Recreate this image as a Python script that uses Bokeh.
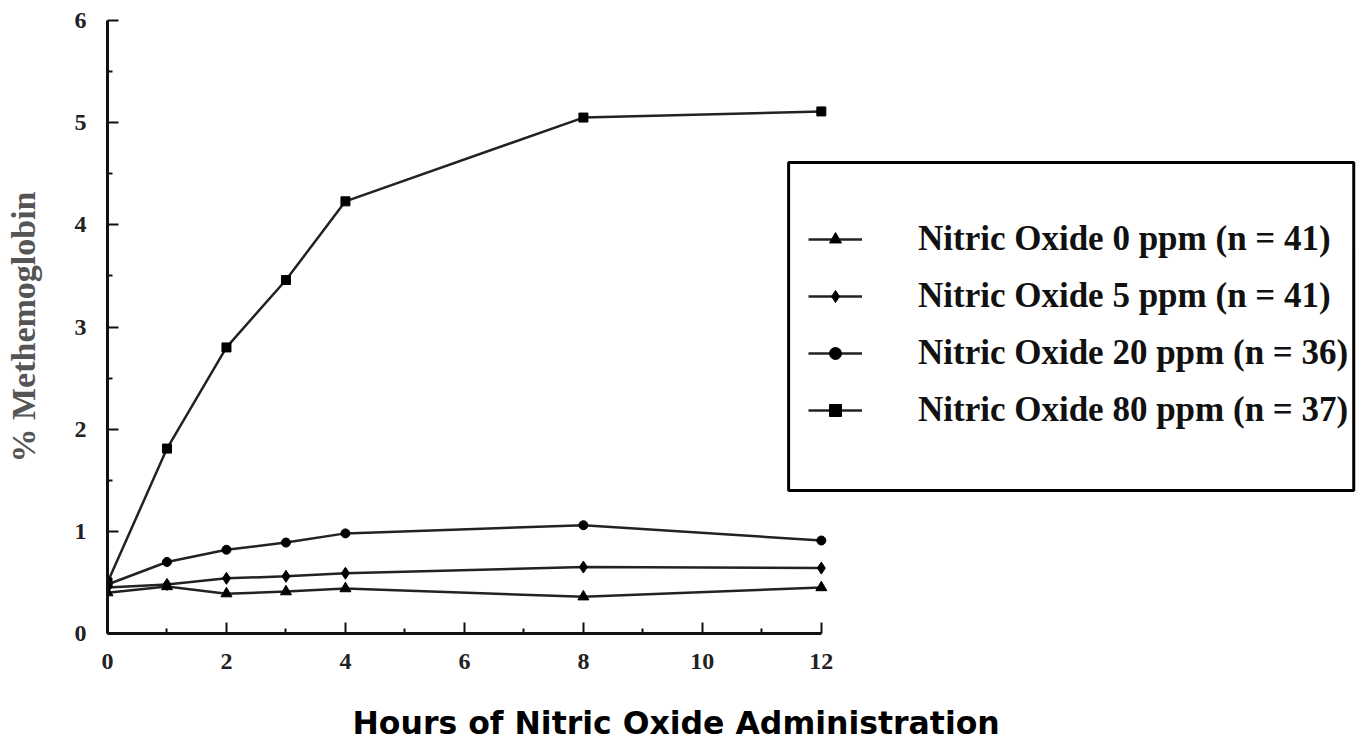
from bokeh.plotting import figure
from bokeh.models import (Range1d, Legend, LegendItem, BoxAnnotation, FixedTicker,
                          LinearAxis, Title)
from bokeh.embed import file_html
from bokeh.resources import INLINE

# ---- data ----
hours = [0, 1, 2, 3, 4, 8, 12]
no_0ppm = [0.40, 0.46, 0.39, 0.41, 0.44, 0.36, 0.45]
no_5ppm = [0.45, 0.48, 0.54, 0.56, 0.59, 0.65, 0.64]
no_20ppm = [0.48, 0.70, 0.82, 0.89, 0.98, 1.06, 0.91]
no_80ppm = [0.50, 1.81, 2.80, 3.46, 4.23, 5.05, 5.11]
series_labels = [
    "Nitric Oxide 0 ppm (n = 41)",
    "Nitric Oxide 5 ppm (n = 41)",
    "Nitric Oxide 20 ppm (n = 36)",
    "Nitric Oxide 80 ppm (n = 37)",
]
x_ticks = [0, 2, 4, 6, 8, 10, 12]
x_minor = [1, 3, 5, 7, 9, 11]
y_ticks = [0, 1, 2, 3, 4, 5, 6]
y_minor = [0.5, 1.5, 2.5, 3.5, 4.5, 5.5]
x_title = "Hours of Nitric Oxide Administration"
y_title = "% Methemoglobin"

# ---- layout constants ----
X_END = 21.03
Y_END = 6.0
SERIF = "Liberation Serif"

p = figure(width=1358, height=745, x_range=Range1d(0, X_END), y_range=Range1d(0, Y_END),
           output_backend="svg", toolbar_location=None,
           min_border_left=107, min_border_right=0, min_border_top=20, min_border_bottom=112)
p.outline_line_color = None
p.xgrid.visible = False
p.ygrid.visible = False

for ax, ticks, mn in ((p.xaxis[0], x_ticks, x_minor), (p.yaxis[0], y_ticks, y_minor)):
    ax.ticker = FixedTicker(ticks=ticks, minor_ticks=mn)
    ax.bounds = (ticks[0], ticks[-1])
    ax.axis_line_color = "#111111"
    ax.axis_line_width = 3
    ax.major_tick_line_color = "#111111"
    ax.major_tick_line_width = 2
    ax.minor_tick_line_color = "#111111"
    ax.minor_tick_line_width = 2
    ax.major_tick_out = 0
    ax.minor_tick_out = 0
    ax.major_tick_in = 11
    ax.minor_tick_in = 5
    ax.major_label_text_font = SERIF
    ax.major_label_text_font_style = "bold"
    ax.major_label_text_font_size = "24px"
    ax.major_label_text_color = "#222222"

p.xaxis.major_label_standoff = 20
p.yaxis.major_label_standoff = 21
p.yaxis.axis_label = y_title
p.yaxis.axis_label_text_font = SERIF
p.yaxis.axis_label_text_font_style = "bold"
p.yaxis.axis_label_text_font_size = "34px"
p.yaxis.axis_label_text_color = "#555555"
p.yaxis.axis_label_standoff = 30

# invisible spacer axis: pushes the x title further down
spacer = LinearAxis(ticker=FixedTicker(ticks=[0], minor_ticks=[]), axis_line_color=None,
                    major_tick_line_color=None, minor_tick_line_color=None,
                    major_tick_out=27, minor_tick_out=0, major_tick_in=0, minor_tick_in=0,
                    major_label_standoff=0, major_label_text_font_size="0px",
                    major_label_text_alpha=0)
p.add_layout(spacer, "below")

xt = Title(text=x_title, align="left", offset=245, standoff=8,
           text_font="DejaVu Sans", text_font_style="bold", text_font_size="31.5px",
           text_color="black")
p.add_layout(xt, "below")

LINE_COLOR = "#222222"
markers = ["triangle", "diamond", "circle", "square"]
sizes = [11, 12, 9, 9]
items = []
for vals, lab, mk, sz in zip([no_0ppm, no_5ppm, no_20ppm, no_80ppm], series_labels, markers, sizes):
    r1 = p.line(hours, vals, line_color=LINE_COLOR, line_width=2.5)
    r2 = p.scatter(hours, vals, marker=mk, size=sz, fill_color="black", line_color="black")
    items.append(LegendItem(label=lab, renderers=[r1, r2]))

legend = Legend(items=items, location=(701, 203), border_line_color=None,
                background_fill_alpha=0, glyph_width=54, glyph_height=30, label_height=30,
                label_standoff=56, spacing=17, padding=0, margin=0,
                label_text_font=SERIF, label_text_font_style="bold",
                label_text_font_size="35px", label_text_color="#111111",
                label_text_baseline="middle")
p.add_layout(legend)

box = BoxAnnotation(left=11.45, right=20.95, top=4.61, bottom=1.40,
                    fill_alpha=0, line_color="black", line_alpha=1, line_width=3)
p.add_layout(box)

open("out.html", "w").write(file_html(p, INLINE))
